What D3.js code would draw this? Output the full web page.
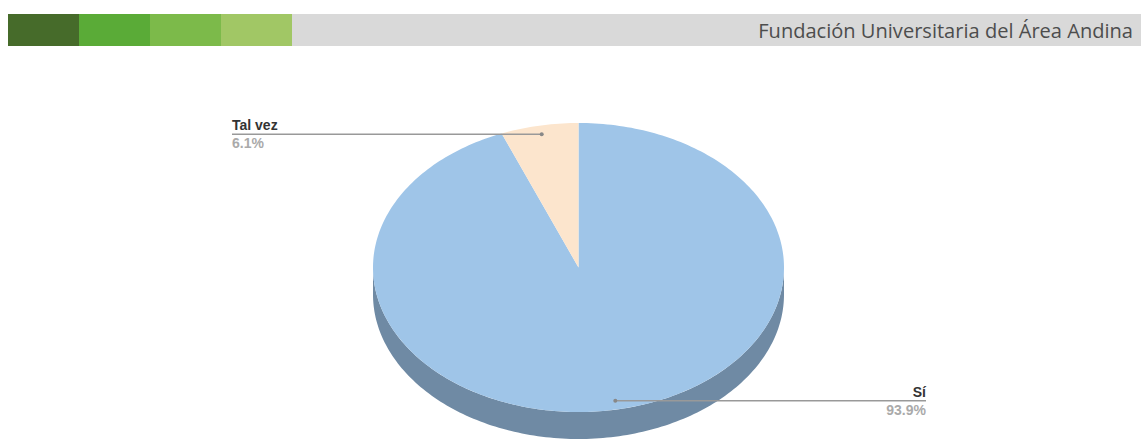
<!DOCTYPE html>
<html>
<head>
<meta charset="utf-8">
<style>
  body { margin: 0; background: #fff; }
  svg { display: block; }
</style>
</head>
<body>
<svg width="1141" height="439"></svg>
<script src="https://cdn.jsdelivr.net/npm/d3@7/dist/d3.min.js"></script>
<script>
// datos del gráfico
var categories = ['Sí', 'Tal vez'];
var values = [93.9, 6.1];
var percentLabels = ['93.9%', '6.1%'];
var topColors = ['#9fc5e8', '#fce5cd'];
var sideColors = ['#6f8aa4', '#c9b7a3'];

// cabecera
var headerColors = ['#466b2a', '#5aab37', '#7cba4a', '#a1c765'];
var headerTitle = 'Fundación Universitaria del Área Andina';

var svg = d3.select('svg');

// barra superior
svg.append('rect')
    .attr('x', 8).attr('y', 14)
    .attr('width', 1141 - 8).attr('height', 32)
    .attr('fill', '#d9d9d9');
var blockX = d3.scaleLinear().domain([0, headerColors.length]).range([8, 292]);
svg.selectAll('.hblock')
    .data(headerColors)
    .enter().append('rect')
    .attr('class', 'hblock')
    .attr('x', function (d, i) { return blockX(i); })
    .attr('y', 14)
    .attr('width', function (d, i) { return blockX(i + 1) - blockX(i); })
    .attr('height', 32)
    .attr('fill', function (d) { return d; });
var title = svg.append('text')
    .attr('x', 1133).attr('y', 38)
    .attr('text-anchor', 'end')
    .attr('font-family', 'Open Sans, sans-serif')
    .attr('font-size', 20)
    .attr('fill', '#4d4d4d')
    .text(headerTitle);
// ajustar el tamaño para que ocupe ~375px
var w = title.node().getComputedTextLength();
title.attr('font-size', 20 * 375 / w);

// geometría del pastel 3D
var cx = 578.5, cy = 267.5, rx = 205.5, ry = 144.5, depth = 27;

var pie = d3.pie().sort(null).value(function (d) { return d; });
var arcs = pie(values);

function pt(a, f, dy) {
    f = f || 1; dy = dy || 0;
    return [cx + rx * f * Math.sin(a), cy - ry * f * Math.cos(a) + dy];
}
function samples(a0, a1) {
    var n = Math.max(2, Math.ceil(Math.abs(a1 - a0) / 0.02));
    return d3.range(n + 1).map(function (i) { return a0 + (a1 - a0) * i / n; });
}

var g = svg.append('g');

// paredes laterales (solo la parte frontal visible)
arcs.forEach(function (d, i) {
    var a0 = Math.max(d.startAngle, Math.PI / 2);
    var a1 = Math.min(d.endAngle, 3 * Math.PI / 2);
    if (a1 <= a0) return;
    var top = samples(a0, a1).map(function (a) { return pt(a); });
    var bottom = samples(a1, a0).map(function (a) { return pt(a, 1, depth); });
    g.append('path')
        .attr('d', d3.line()(top.concat(bottom)) + 'Z')
        .attr('fill', sideColors[i]);
});

// caras superiores
arcs.forEach(function (d, i) {
    var pts = [[cx, cy]].concat(samples(d.startAngle, d.endAngle).map(function (a) { return pt(a); }));
    g.append('path')
        .attr('d', d3.line()(pts) + 'Z')
        .attr('fill', topColors[i]);
});

// etiquetas con líneas guía
var labelEnds = [926, 232];
arcs.forEach(function (d, i) {
    var mid = (d.startAngle + d.endAngle) / 2;
    var p = pt(mid, 0.94);
    var right = Math.sin(mid) > 0;
    var xEnd = labelEnds[i];
    g.append('line')
        .attr('x1', p[0]).attr('y1', p[1])
        .attr('x2', xEnd).attr('y2', p[1])
        .attr('stroke', '#999').attr('stroke-width', 1.5);
    g.append('circle')
        .attr('cx', p[0]).attr('cy', p[1]).attr('r', 2)
        .attr('fill', '#888');
    var anchor = right ? 'end' : 'start';
    g.append('text')
        .attr('x', xEnd).attr('y', p[1] - 4)
        .attr('text-anchor', anchor)
        .attr('font-family', 'Liberation Sans, Arial, sans-serif')
        .attr('font-weight', 'bold')
        .attr('font-size', 14)
        .attr('fill', '#333')
        .text(categories[i]);
    g.append('text')
        .attr('x', xEnd).attr('y', p[1] + 14)
        .attr('text-anchor', anchor)
        .attr('font-family', 'Liberation Sans, Arial, sans-serif')
        .attr('font-weight', 'bold')
        .attr('font-size', 14)
        .attr('fill', '#aaa')
        .text(percentLabels[i]);
});
</script>
</body>
</html>
